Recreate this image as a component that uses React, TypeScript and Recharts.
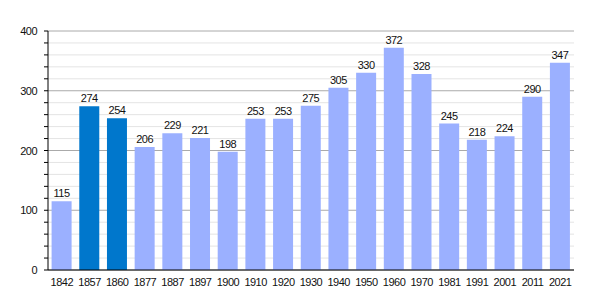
import { Bar, BarChart, CartesianGrid, Cell, LabelList, XAxis, YAxis } from "recharts";

const YEARS = ["1842", "1857", "1860", "1877", "1887", "1897", "1900", "1910", "1920", "1930", "1940", "1950", "1960", "1970", "1981", "1991", "2001", "2011", "2021"];
const POPULATION = [115, 274, 254, 206, 229, 221, 198, 253, 253, 275, 305, 330, 372, 328, 245, 218, 224, 290, 347];
const HIGHLIGHTED = ["1857", "1860"];
const Y_TICKS = [0, 20, 40, 60, 80, 100, 120, 140, 160, 180, 200, 220, 240, 260, 280, 300, 320, 340, 360, 380, 400];
const MAJOR_TICKS = [0, 100, 200, 300, 400];
const MINOR_TICKS = Y_TICKS.filter((t) => !MAJOR_TICKS.includes(t));

const LIGHT = "#9bb0ff";
const DARK = "#0077cc";
const FONT = "'Liberation Sans', Arial, sans-serif";
const TEXT_STYLE = { fontSize: 11, fill: "#111", fontFamily: FONT, letterSpacing: -0.5 };

const data = YEARS.map((year, i) => ({ year, population: POPULATION[i] }));

function YTick(props: any) {
  const { x, y, payload } = props;
  if (payload.value % 100 !== 0) return null;
  return (
    <text x={x} y={y} dy={4} textAnchor="end" style={TEXT_STYLE}>
      {payload.value}
    </text>
  );
}

export default function App() {
  return (
    <div style={{ position: "fixed", left: 0, top: 0, background: "#fff" }}>
      <BarChart
        width={600}
        height={300}
        data={data}
        margin={{ top: 31, right: 26, bottom: 0, left: 0 }}
        barCategoryGap={3.6}
      >
        <CartesianGrid vertical={false} horizontalValues={MINOR_TICKS} stroke="#e4e4e4" />
        <CartesianGrid vertical={false} horizontalValues={MAJOR_TICKS} stroke="#aaaaaa" />
        <XAxis
          dataKey="year"
          tickLine={false}
          axisLine={{ stroke: "#000" }}
          tick={TEXT_STYLE}
          tickMargin={2}
          height={30}
          interval={0}
        />
        <YAxis
          width={48}
          domain={[0, 400]}
          ticks={Y_TICKS}
          interval={0}
          tickSize={4}
          tickMargin={7}
          tickLine={{ stroke: "#000" }}
          axisLine={{ stroke: "#000" }}
          tick={<YTick />}
        />
        <Bar dataKey="population" isAnimationActive={false}>
          {data.map((d) => (
            <Cell key={d.year} fill={HIGHLIGHTED.includes(d.year) ? DARK : LIGHT} />
          ))}
          <LabelList dataKey="population" position="top" offset={4} style={TEXT_STYLE} />
        </Bar>
      </BarChart>
    </div>
  );
}
